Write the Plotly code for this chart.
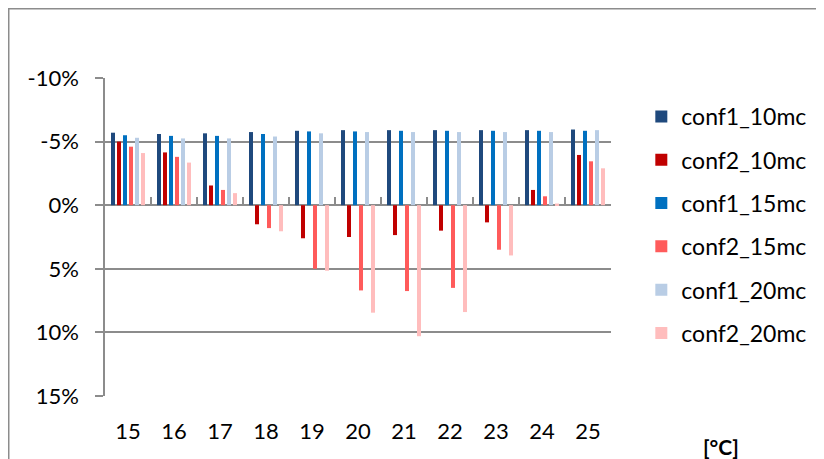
import plotly.graph_objects as go

categories = [15, 16, 17, 18, 19, 20, 21, 22, 23, 24, 25]
series_names = ["conf1_10mc", "conf2_10mc", "conf1_15mc", "conf2_15mc", "conf1_20mc", "conf2_20mc"]
conf1_10mc = [-5.7, -5.6, -5.65, -5.75, -5.85, -5.9, -5.9, -5.9, -5.9, -5.9, -5.95]
conf2_10mc = [-5.0, -4.15, -1.55, 1.5, 2.6, 2.5, 2.35, 2.0, 1.35, -1.2, -3.95]
conf1_15mc = [-5.5, -5.45, -5.45, -5.6, -5.8, -5.8, -5.85, -5.85, -5.85, -5.85, -5.85]
conf2_15mc = [-4.6, -3.8, -1.2, 1.8, 5.0, 6.7, 6.75, 6.5, 3.5, -0.7, -3.45]
conf1_20mc = [-5.3, -5.25, -5.25, -5.4, -5.65, -5.75, -5.75, -5.75, -5.75, -5.75, -5.9]
conf2_20mc = [-4.1, -3.35, -0.95, 2.05, 5.15, 8.45, 10.3, 8.4, 3.95, -0.13, -2.9]
y_tickvals = [-10, -5, 0, 5, 10, 15]
y_ticktext = ["-10%", "-5%", "0%", "5%", "10%", "15%"]
x_unit_label = "[°C]"

colors = ["#1F497D", "#C00000", "#0070C0", "#FF5B5B", "#B9CDE5", "#FFBDBD"]
all_series = [conf1_10mc, conf2_10mc, conf1_15mc, conf2_15mc, conf1_20mc, conf2_20mc]

FONT = "Lato"
GRID = "#8C8C8C"

fig = go.Figure()
for name, vals, col in zip(series_names, all_series, colors):
    fig.add_trace(go.Bar(x=categories, y=vals, name=name, marker=dict(color=col, line=dict(width=0)),
                         legendgroup=name))

# helper axis drawing category boundary ticks along the zero line
fig.add_trace(go.Scatter(x=[None], y=[None], xaxis="x2", showlegend=False, hoverinfo="skip"))

# page body has an 8px margin; figure coordinates are offset accordingly
W, H = 816, 451
ml, mt = 97, 70
pr, pb = 602.7, 388
mr, mb = W - pr, H - pb
pw = pr - ml
ph = pb - mt

xmin, xmax = categories[0] - 0.5, categories[-1] + 0.5
fig.update_layout(
    width=W, height=H,
    margin=dict(l=ml, r=mr, t=mt, b=mb, pad=0),
    paper_bgcolor="white", plot_bgcolor="white",
    barmode="group", bargap=10 / 46, bargroupgap=1 / 3,
    font=dict(family=FONT, size=22, color="black"),
    xaxis=dict(range=[xmin, xmax], tickvals=categories, ticktext=[str(c) for c in categories],
               showgrid=False, zeroline=False, showline=False, ticks="", ticklabelstandoff=20,
               tickfont=dict(size=22)),
    xaxis2=dict(range=[xmin, xmax], overlaying="x", anchor="free", position=15 / 25,
                tickvals=[c - 0.5 for c in categories] + [xmax], ticks="inside", ticklen=8,
                tickwidth=1.5, tickcolor=GRID, showticklabels=False, showgrid=False,
                zeroline=False, showline=False),
    yaxis=dict(range=[15, -10], tickvals=y_tickvals, ticktext=y_ticktext, showgrid=True,
               gridcolor=GRID, gridwidth=1.5, zeroline=False, showline=True, linecolor=GRID,
               linewidth=1.5, ticks="outside", ticklen=8, tickwidth=1.5, tickcolor=GRID,
               ticklabelstandoff=12, tickfont=dict(size=22)),
    legend=dict(x=(633 - ml) / pw, xanchor="left", y=(pb - 87) / ph, yanchor="top",
                traceorder="grouped", tracegroupgap=10.4, font=dict(size=23),
                bgcolor="rgba(0,0,0,0)", itemclick=False),
    showlegend=True,
)

fig.add_annotation(text="<b>" + x_unit_label + "</b>", xref="paper", yref="paper",
                   x=(713 - ml) / pw, y=(pb - 438) / ph, xanchor="center", yanchor="middle",
                   showarrow=False, font=dict(size=21, family=FONT))

fig.add_shape(type="rect", xref="paper", yref="paper",
              x0=(0.8 - ml) / pw, x1=3, y0=-3, y1=(pb - 0.8) / ph,
              line=dict(color=GRID, width=1.5), layer="below")

fig.write_html("out.html")
